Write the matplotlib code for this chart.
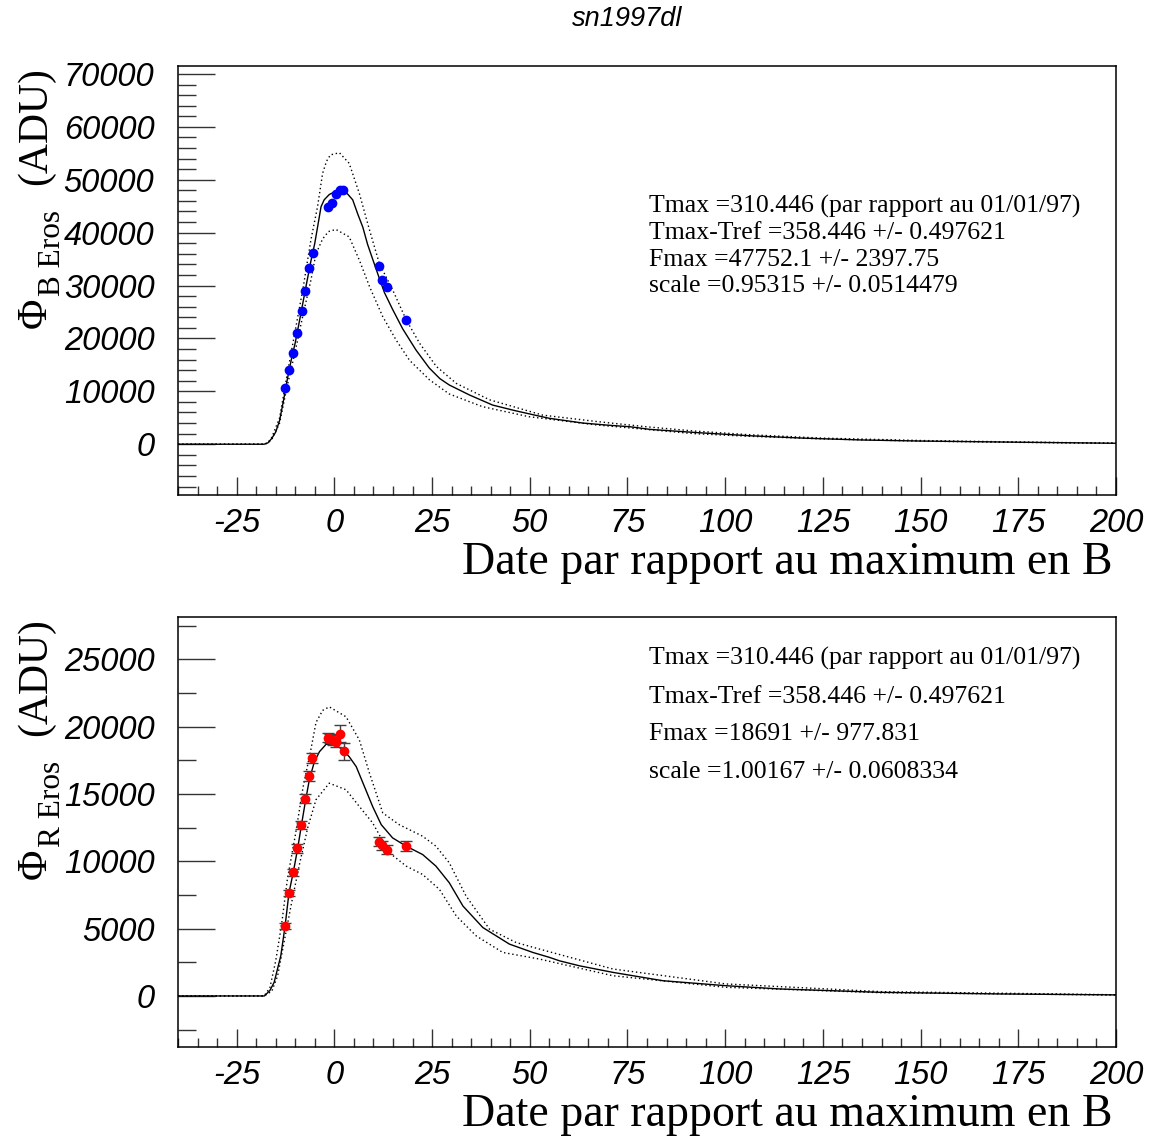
import matplotlib
matplotlib.use("Agg")
import matplotlib.pyplot as plt
from matplotlib.ticker import MultipleLocator, FuncFormatter

plt.rcParams['font.family'] = ['Liberation Sans', 'DejaVu Sans']
plt.rcParams['font.style'] = 'italic'
plt.rcParams['axes.unicode_minus'] = False

# ---------------- data: B band (top) ----------------
B_fit_x = [-40, -18, -17, -16, -15, -14, -13, -12, -11, -10, -9, -8, -7, -6, -5, -4, -3.4, -2.6, -1.3, 0,
           1.5, 2.5, 3.4, 4.7, 6, 7.3, 8.5, 9.8, 11.5, 12.8, 14.9, 17.5, 20.9, 24.3, 27, 29.4, 34.6, 40.5,
           46.5, 52.5, 55, 63.6, 70, 75.7, 80.8, 92.7, 106.3, 120, 135, 150, 175, 200]
B_fit_y = [0, 0, 250, 1100, 2300, 4500, 8300, 12400, 16000, 19200, 23000, 26900, 30800, 34600, 38000, 42300,
           44900, 46200, 47200, 47700, 47900, 47800, 47300, 46200, 43500, 41000, 37800, 35000, 31400, 28700,
           25500, 21800, 17800, 14400, 12400, 11200, 9300, 7400, 6300, 5300, 4900, 4000, 3600, 3300, 2800,
           2200, 1600, 1150, 800, 600, 380, 180]
B_up_x = [-40, -18, -17, -16, -14, -12, -10, -8, -6, -4.3, -3, -2, -1, 1.3, 3.8, 6.4, 9, 11.5, 14.9, 18.4,
          21.8, 26.1, 31.2, 39.7, 53.3, 67, 79.8, 92, 106, 125, 150, 175, 200]
B_up_y = [0, 0, 300, 1300, 5000, 13500, 21500, 29500, 38600, 44900, 51200, 53500, 54700, 55100, 53100, 47400,
          40500, 34200, 29200, 23500, 19100, 14700, 11500, 8400, 5500, 4300, 3300, 2500, 1800, 1150, 700, 420, 200]
B_lo_x = [-40, -18, -17, -16, -14, -12, -10, -8, -6, -4.7, -3, -1.5, 0.4, 3.8, 6.4, 9, 12.4, 15.8, 19.2, 24.3,
          29.4, 37.9, 49.8, 67, 79.8, 92, 106, 125, 150, 175, 200]
B_lo_y = [0, 0, 200, 900, 4000, 11200, 17600, 24500, 31000, 36000, 38800, 40200, 40600, 39200, 34800, 29800,
          24100, 19700, 15900, 12200, 9500, 7100, 5200, 3650, 2800, 2000, 1500, 1000, 580, 350, 170]
B_x = [-12.5, -11.6, -10.5, -9.5, -8.4, -7.5, -6.4, -5.5, -1.5, -0.6, 0.3, 1.4, 2.3, 11.4, 12.3, 13.4, 18.4]
B_y = [10640, 14000, 17320, 21040, 25260, 28920, 33270, 36220, 44860, 45610, 47370, 48010, 48010, 33700,
       31000, 29680, 23550]

# ---------------- data: R band (bottom) ----------------
R_fit_x = [-40, -17.9, -16.5, -15.4, -13.7, -12.6, -11.6, -10.5, -9.4, -8.4, -7.4, -6.4, -5.1, -3.8, -2.1,
           -0.4, 1.7, 3.8, 5.6, 7.7, 9.8, 12.0, 14.9, 18.4, 22.6, 26.0, 29.4, 32.9, 38.0, 44.8, 50.8, 55.1,
           57.6, 62.7, 71.3, 84.1, 100.3, 114, 139.6, 170, 200]
R_fit_y = [0, 0, 400, 1010, 2980, 5200, 7670, 9190, 10920, 12720, 14450, 16050, 17400, 18140, 18690,
           18710, 18390, 17770, 17030, 15550, 14070, 12720, 11740, 11120, 10500, 9640, 8410, 6680, 5080, 3850,
           3230, 2860, 2610, 2240, 1750, 1130, 760, 520, 270, 150, 80]
R_up_x = [-40, -18, -16.5, -15, -13.5, -12, -10, -8, -6, -4.7, -3, -1.3, 3.0, 6.4, 9.0, 12.4, 16.6, 22.6,
          26.0, 29.4, 33.7, 39.7, 46.5, 52.5, 71.3, 100.3, 140, 200]
R_up_y = [0, 0, 600, 2600, 5300, 8700, 11900, 15500, 18300, 20300, 21200, 21470, 20730, 19010, 16540,
          13590, 12720, 11860, 11120, 9890, 7420, 4960, 3970, 3480, 2000, 890, 320, 90]
R_lo_x = [-40, -18, -16, -14.5, -13.2, -11.1, -8.9, -6.8, -4.7, -1.3, 3.0, 6.4, 9.8, 14.1, 18.4, 22.6,
          26.9, 31.2, 36.3, 43.1, 52.5, 71.3, 100.3, 140, 200]
R_lo_y = [0, 0, 350, 1500, 3480, 6680, 9800, 12500, 14570, 15800, 15310, 14070, 12850, 10630, 9640, 9020,
          7910, 5940, 4460, 3230, 2740, 1500, 640, 240, 70]
R_x = [-12.6, -11.6, -10.5, -9.6, -8.5, -7.5, -6.6, -5.6, -1.7, -1.0, -0.3, 0.4, 1.5, 2.5, 11.4, 12.3, 13.4, 18.4]
R_y = [5200, 7640, 9190, 10950, 12700, 14640, 16320, 17650, 19180, 19100, 19000, 18850, 19470, 18170,
       11440, 11200, 10870, 11120]
R_err = [220, 250, 270, 300, 320, 340, 350, 370, 350, 350, 350, 350, 620, 620, 340, 340, 340, 390]

title = "sn1997dl"
xlabel = "Date par rapport au maximum en B"
stats_B = ["Tmax =310.446 (par rapport au 01/01/97)", "Tmax-Tref =358.446 +/- 0.497621",
           "Fmax =47752.1 +/- 2397.75", "scale =0.95315 +/- 0.0514479"]
stats_R = ["Tmax =310.446 (par rapport au 01/01/97)", "Tmax-Tref =358.446 +/- 0.497621",
           "Fmax =18691 +/- 977.831", "scale =1.00167 +/- 0.0608334"]

W, H = 1159, 1139
fig = plt.figure(figsize=(W / 100, H / 100), dpi=100)


def fx(px):
    return px / W


def fy(py):
    return 1 - py / H


SERIF = ['Liberation Serif', 'DejaVu Serif']
TICKC = '0.2'


def setup(ax, ylim, ymaj, ymin):
    ax.set_xlim(-40, 200)
    ax.set_ylim(*ylim)
    ax.xaxis.set_major_locator(MultipleLocator(25))
    ax.xaxis.set_minor_locator(MultipleLocator(5))
    ax.yaxis.set_major_locator(MultipleLocator(ymaj))
    ax.yaxis.set_minor_locator(MultipleLocator(ymin))
    fmt = FuncFormatter(lambda v, p: f"{v:g}")
    ax.xaxis.set_major_formatter(fmt)
    ax.yaxis.set_major_formatter(fmt)
    ax.tick_params(axis='x', which='major', direction='in', length=13, width=1, pad=9.5,
                   labelsize=23.5, color=TICKC)
    ax.tick_params(axis='x', which='minor', direction='in', length=6.5, width=1, color=TICKC)
    ax.tick_params(axis='y', which='major', direction='in', length=26.6, width=1, pad=17,
                   labelsize=23.5, color=TICKC)
    ax.tick_params(axis='y', which='minor', direction='in', length=13, width=1, color=TICKC)
    for s in ax.spines.values():
        s.set_linewidth(1.1)


def curves(ax, fx_, fy_, ux, uy, lx, ly):
    ax.plot(ux, uy, color='black', lw=1.0, linestyle=(0, (1, 2)))
    ax.plot(lx, ly, color='black', lw=1.0, linestyle=(0, (1, 2)))
    ax.plot(fx_, fy_, color='black', lw=1.0)


# top panel
ax1 = fig.add_axes([fx(178), fy(495), (1116 - 178) / W, (495 - 66) / H])
setup(ax1, (-9600, 71500), 10000, 2000)
curves(ax1, B_fit_x, B_fit_y, B_up_x, B_up_y, B_lo_x, B_lo_y)
ax1.plot(B_x, B_y, 'o', color='#0000ff', markersize=6, zorder=5)

# bottom panel
ax2 = fig.add_axes([fx(178), fy(1047), (1116 - 178) / W, (1047 - 617) / H])
setup(ax2, (-3790, 28140), 5000, 2500)
curves(ax2, R_fit_x, R_fit_y, R_up_x, R_up_y, R_lo_x, R_lo_y)
ax2.errorbar(R_x, R_y, yerr=R_err, fmt='none', ecolor='0.25', elinewidth=1.0, capsize=4, capthick=1.0, zorder=4)
ax2.plot(R_x, R_y, 'o', color='#ff0000', markersize=6, zorder=5)

# title
fig.text(fx(627.5), fy(26), title, ha='center', va='baseline', fontsize=19.5, style='italic')

# x labels
for base in (574, 1126):
    fig.text(fx(1113), fy(base), xlabel, ha='right', va='baseline', fontsize=33,
             family=SERIF, style='normal')

# y labels
for off, band in ((0, 'B'), (551, 'R')):
    fig.text(fx(46), fy(67 + off), '(ADU)', rotation=90, rotation_mode='anchor', ha='right',
             va='baseline', fontsize=30, family=SERIF, style='normal')
    fig.text(fx(60), fy(210 + off), f'{band} Eros', rotation=90, rotation_mode='anchor', ha='right',
             va='baseline', fontsize=22.5, family=SERIF, style='normal')
    fig.text(fx(46), fy(298 + off), '\u03a6', rotation=90, rotation_mode='anchor', ha='right',
             va='baseline', fontsize=30, family=SERIF, style='normal')

# stats
for lines, bases in ((stats_B, (212.3, 239, 265.7, 292.3)), (stats_R, (665, 702.7, 740.3, 778))):
    for t, b in zip(lines, bases):
        fig.text(fx(649), fy(b), t, ha='left', va='baseline', fontsize=18.5, family=SERIF, style='normal')

fig.savefig('out.png', dpi=100)
